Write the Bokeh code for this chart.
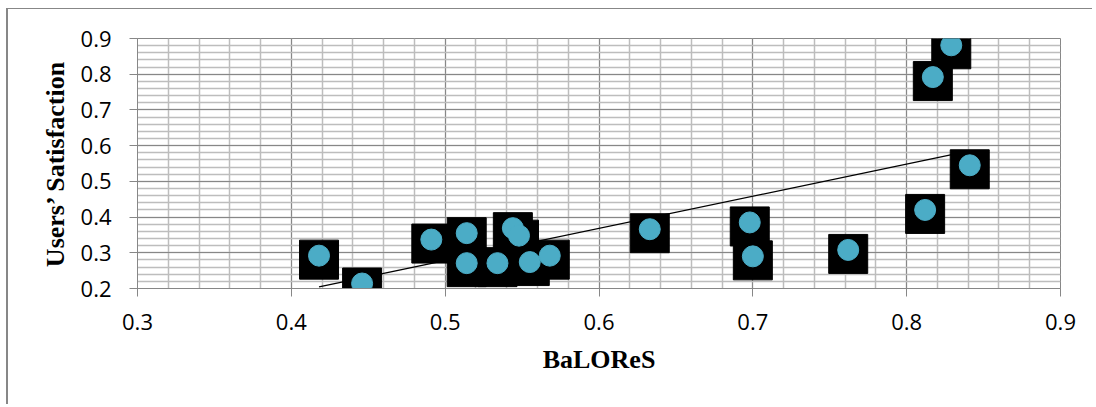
import numpy as np
from bokeh.plotting import figure
from bokeh.models import FixedTicker, NumeralTickFormatter, ColumnDataSource
from bokeh.transform import dodge
from bokeh.embed import file_html
from bokeh.resources import INLINE

# ---- data ----
balores = [0.418, 0.446, 0.491, 0.514, 0.514, 0.534, 0.544, 0.548, 0.555,
           0.568, 0.633, 0.698, 0.700, 0.762, 0.812, 0.841, 0.817, 0.829]
satisfaction = [0.292, 0.214, 0.337, 0.355, 0.271, 0.271, 0.369, 0.348, 0.274,
                0.292, 0.366, 0.385, 0.290, 0.308, 0.420, 0.545, 0.792, 0.881]
x_ticks = [0.3, 0.4, 0.5, 0.6, 0.7, 0.8, 0.9]
y_ticks = [0.2, 0.3, 0.4, 0.5, 0.6, 0.7, 0.8, 0.9]
x_title = "BaLOReS"
y_title = "Users\u2019 Satisfaction"

# ---- figure ----
p = figure(width=1086, height=396, output_backend="svg", toolbar_location=None,
           x_range=(0.3, 0.9), y_range=(0.2, 0.9),
           min_border_left=129, min_border_right=34,
           min_border_top=29, min_border_bottom=117)
p.styles = {"border-left": "2px solid #878787", "border-top": "1px solid #878787",
            "margin-left": "6px", "margin-top": "8px"}
p.background_fill_color = "white"
p.border_fill_color = "white"
p.outline_line_color = "#878787"
p.outline_line_width = 1

minor_x = [round(v, 2) for v in np.arange(0.3, 0.9001, 0.02)]
minor_y = [round(v, 2) for v in np.arange(0.2, 0.9001, 0.02)]
p.xaxis.ticker = FixedTicker(ticks=x_ticks, minor_ticks=minor_x)
p.yaxis.ticker = FixedTicker(ticks=y_ticks, minor_ticks=minor_y)

for ax in (p.xaxis, p.yaxis):
    ax.formatter = NumeralTickFormatter(format="0.0")
    ax.axis_line_color = "#878787"
    ax.major_tick_line_color = "#878787"
    ax.major_tick_out = 8
    ax.major_tick_in = 0
    ax.minor_tick_line_color = None
    ax.major_label_text_font = "Open Sans"
    ax.major_label_text_font_size = "22px"
    ax.major_label_text_color = "black"
    ax.axis_label_text_font = "Liberation Serif"
    ax.axis_label_text_font_style = "bold"
    ax.axis_label_text_font_size = "26px"
    ax.axis_label_text_color = "black"

p.xaxis.axis_label = x_title
p.yaxis.axis_label = y_title
p.xaxis.major_label_standoff = 17
p.yaxis.major_label_standoff = 18
p.xaxis.axis_label_standoff = 12
p.yaxis.axis_label_standoff = 8

for g in (p.xgrid, p.ygrid):
    g.grid_line_color = "#878787"
    g.grid_line_width = 1
    g.minor_grid_line_color = "#bdbdbd"
    g.minor_grid_line_width = 1.5

# ---- trendline (least-squares fit of the data) ----
slope, intercept = np.polyfit(balores, satisfaction, 1)
tx = [min(balores), max(balores)]
ty = [slope * v + intercept for v in tx]
p.line(tx, ty, line_color="black", line_width=1.3)

# ---- markers ----
src = ColumnDataSource(dict(x=balores, y=satisfaction))
p.scatter(x="x", y=dodge("y", -0.0112, range=p.y_range), source=src,
          marker="square", size=39, fill_color="black", line_color="black")
p.scatter(x="x", y="y", source=src, marker="circle", size=21,
          fill_color="#4BACC6", line_color="#4BACC6")

open("out.html", "w").write(file_html(p, INLINE))
